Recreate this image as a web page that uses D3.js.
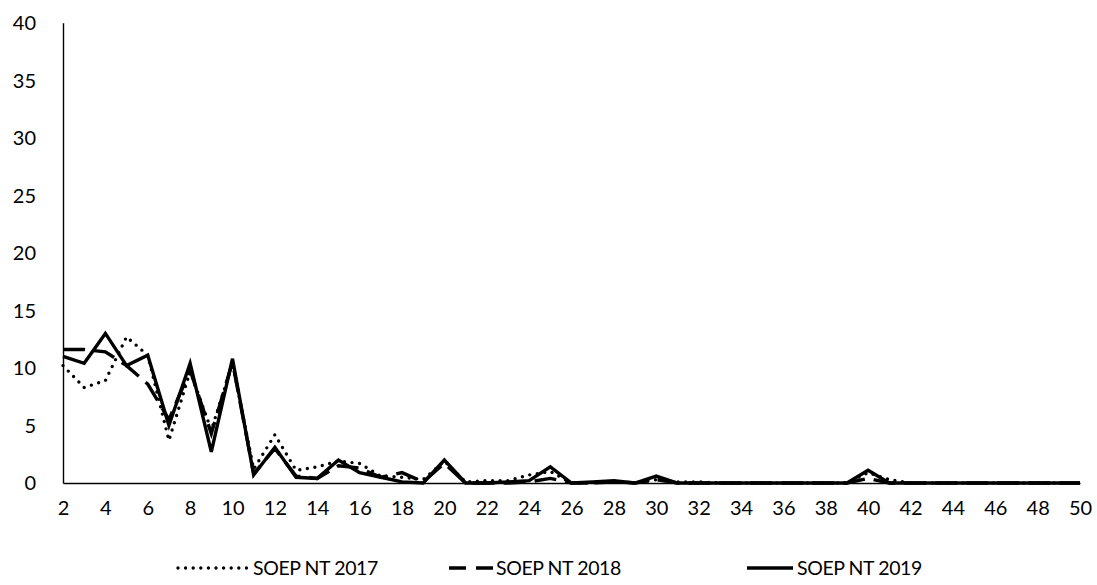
<!DOCTYPE html>
<html>
<head>
<meta charset="utf-8">
<script src="https://cdn.jsdelivr.net/npm/d3@7"></script>
<style>
  html, body { margin: 0; padding: 0; background: #fff; }
  svg { display: block; }
  text { font-family: Lato, "Open Sans", sans-serif; fill: #000; }
</style>
</head>
<body>
<svg id="chart" width="1097" height="585"></svg>
<script>
// ---- data ----
const categories = d3.range(2, 51); // 2..50
const yTicks = [0, 5, 10, 15, 20, 25, 30, 35, 40];
const xTicks = d3.range(2, 51, 2);
const seriesNames = ["SOEP NT 2017", "SOEP NT 2018", "SOEP NT 2019"];

const soep2017 = [10.2, 8.3, 8.9, 12.7, 11.1, 3.7, 9.7, 4.6, 10.4, 1.2,
                  4.2, 1.1, 1.4, 1.9, 1.7, 0.6, 0.5, 0.3, 1.9, 0.1,
                  0.2, 0.2, 0.7, 1.0, 0.0, 0.0, 0.1, 0.0, 0.3, 0.1,
                  0.1, 0.0, 0.0, 0.0, 0.0, 0.0, 0.0, 0.0, 0.9, 0.3,
                  0.0, 0.0, 0.0, 0.0, 0.0, 0.0, 0.0, 0.0, 0.0];
const soep2018 = [11.6, 11.6, 11.4, 10.2, 8.6, 5.5, 9.8, 4.3, 10.5, 0.8,
                  3.0, 0.6, 0.4, 1.5, 1.3, 0.5, 0.9, 0.1, 1.7, 0.0,
                  0.0, 0.0, 0.1, 0.4, 0.0, 0.0, 0.1, 0.0, 0.3, 0.0,
                  0.0, 0.0, 0.0, 0.0, 0.0, 0.0, 0.0, 0.0, 0.4, 0.0,
                  0.0, 0.0, 0.0, 0.0, 0.0, 0.0, 0.0, 0.0, 0.0];
const soep2019 = [11.0, 10.4, 13.0, 10.2, 11.1, 5.0, 10.4, 2.7, 10.8, 0.7,
                  3.1, 0.5, 0.4, 2.0, 0.9, 0.5, 0.1, 0.0, 2.0, 0.0,
                  0.0, 0.1, 0.2, 1.4, 0.0, 0.1, 0.2, 0.0, 0.6, 0.0,
                  0.0, 0.0, 0.0, 0.0, 0.0, 0.0, 0.0, 0.0, 1.1, 0.0,
                  0.0, 0.0, 0.0, 0.0, 0.0, 0.0, 0.0, 0.0, 0.0];

// ---- layout ----
const svg = d3.select("#chart");
const plotLeft = 63, plotRight = 1080, plotTop = 22.7, plotBottom = 483;
const x = d3.scaleLinear().domain([2, 50]).range([plotLeft, plotRight]);
const y = d3.scaleLinear().domain([0, 40]).range([plotBottom, plotTop]);

const styles = [
  { dash: "0,7.6", cap: "round", width: 3.4 },
  { dash: "22,9", cap: "butt", width: 3.4 },
  { dash: null, cap: "butt", width: 3.4 }
];
const allSeries = [soep2017, soep2018, soep2019];

// axes
const yAxis = d3.axisLeft(y).tickValues(yTicks).tickSize(0).tickPadding(27);
const gy = svg.append("g").attr("transform", `translate(${plotLeft},0)`).call(yAxis);
gy.select(".domain").attr("stroke", "#000").attr("stroke-width", 1.4);
gy.selectAll("text").style("font-size", "20px").attr("dy", "0.34em");

const xAxis = d3.axisBottom(x).tickValues(xTicks).tickSize(0).tickPadding(18);
const gx = svg.append("g").attr("transform", `translate(0,${plotBottom})`).call(xAxis);
gx.select(".domain").attr("stroke", "#000").attr("stroke-width", 1.4);
gx.selectAll("text").style("font-size", "20px");

// lines
const line = d3.line().x((d, i) => x(categories[i])).y(d => y(d));
allSeries.forEach((vals, k) => {
  const p = svg.append("path")
    .datum(vals)
    .attr("d", line)
    .attr("fill", "none")
    .attr("stroke", "#000")
    .attr("stroke-width", styles[k].width)
    .attr("stroke-linejoin", "miter")
    .attr("stroke-linecap", styles[k].cap);
  if (styles[k].dash) p.attr("stroke-dasharray", styles[k].dash);
});

// legend
const legendItems = [
  { x1: 178, x2: 248, tx: 253 },
  { x1: 449, x2: 493, tx: 496 },
  { x1: 747, x2: 793, tx: 797 }
];
const ly = 568;
const lg = svg.append("g");
legendItems.forEach((it, k) => {
  const l = lg.append("line")
    .attr("x1", it.x1).attr("x2", it.x2).attr("y1", ly).attr("y2", ly)
    .attr("stroke", "#000").attr("stroke-width", styles[k].width)
    .attr("stroke-linecap", styles[k].cap);
  if (k === 1) l.attr("stroke-dasharray", "17,10");
  else if (styles[k].dash) l.attr("stroke-dasharray", styles[k].dash);
  lg.append("text").attr("x", it.tx).attr("y", ly).attr("dy", "0.35em")
    .style("font-size", "19.5px").style("letter-spacing", "-0.4px")
    .text(seriesNames[k]);
});
</script>
</body>
</html>
